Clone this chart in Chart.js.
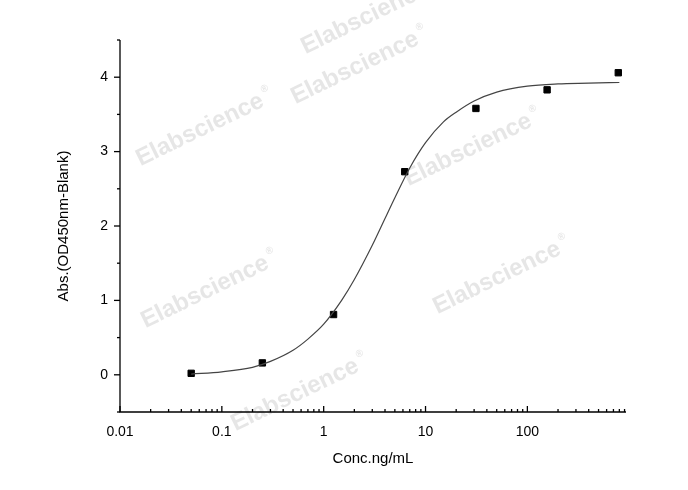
<!DOCTYPE html>
<html><head><meta charset="utf-8">
<script src="https://cdn.jsdelivr.net/npm/chart.js@4"></script>
<style>body{margin:0;background:#fff}canvas{display:block}</style>
</head><body>
<canvas id="c" width="688" height="490" style="width:688px;height:490px"></canvas>
<script>
const concX = [0.05, 0.25, 1.25, 6.25, 31.25, 156.25, 781.25];
const absY = [0.02, 0.16, 0.81, 2.73, 3.58, 3.83, 4.06];
const curveX = [0.05, 0.1, 0.2, 0.3, 0.5, 0.7, 1, 1.5, 2, 3, 4, 5, 7, 10, 15, 20, 30, 50, 100, 200, 400, 800];
const curveY = [0.01, 0.04, 0.1, 0.18, 0.33, 0.48, 0.68, 1.0, 1.28, 1.74, 2.1, 2.38, 2.78, 3.12, 3.4, 3.53, 3.68, 3.8, 3.88, 3.91, 3.92, 3.93];
const xTickLabels = ['0.01', '0.1', '1', '10', '100'];
const yTickLabels = ['0', '1', '2', '3', '4'];
const wm = [[365,18],[355,68],[200,130],[468,150],[205,292],[497,278],[295,395]];

const deco = {
  id: 'deco',
  beforeDatasetsDraw(ch) {
    const c = ch.ctx;
    c.save();
    c.fillStyle = 'rgba(200,200,200,0.45)';
    c.textAlign = 'center'; c.textBaseline = 'middle';
    wm.forEach(([x,y]) => { c.save(); c.translate(x,y); c.rotate(-0.45);
      c.font = 'bold 24px "Liberation Sans", Arial'; c.fillText('Elabscience', 0, 0);
      c.font = 'bold 10px "Liberation Sans"'; c.fillText('®', 76, -9); c.restore(); });
    c.restore();
  },
  afterDraw(ch) {
    const c = ch.ctx, xs = ch.scales.x, ys = ch.scales.y, a = ch.chartArea;
    c.save();
    c.strokeStyle = '#000'; c.lineWidth = 1.3; c.fillStyle = '#000';
    c.beginPath(); c.moveTo(a.left, a.top); c.lineTo(a.left, a.bottom); c.lineTo(a.right, a.bottom); c.stroke();
    c.font = '14px "Liberation Sans", Arial';
    c.textAlign = 'center'; c.textBaseline = 'top';
    for (let d = -2; d <= 2; d++) {
      for (let m = 1; m <= 9; m++) {
        const v = m * Math.pow(10, d);
        if (v > xs.max) break;
        const px = xs.getPixelForValue(v);
        c.beginPath(); c.moveTo(px, a.bottom); c.lineTo(px, a.bottom - (m === 1 ? 6 : 3)); c.stroke();
      }
      c.fillText(xTickLabels[d + 2], xs.getPixelForValue(Math.pow(10, d)), a.bottom + 13);
    }
    c.textAlign = 'right'; c.textBaseline = 'middle';
    for (let v = -0.5; v <= 4.5; v += 0.5) {
      const py = ys.getPixelForValue(v);
      const major = Math.abs(v - Math.round(v)) < 1e-6;
      c.beginPath(); c.moveTo(a.left, py); c.lineTo(a.left - (major ? 6 : 3), py); c.stroke();
      if (major && v >= 0) c.fillText(yTickLabels[v], a.left - 12, py);
    }
    c.textAlign = 'center'; c.textBaseline = 'middle';
    c.font = '15px "Liberation Sans", Arial';
    c.fillText('Conc.ng/mL', (a.left + a.right) / 2, 459);
    c.save(); c.translate(64, (a.top + a.bottom) / 2); c.rotate(-Math.PI / 2);
    c.fillText('Abs.(OD450nm-Blank)', 0, 0); c.restore();
    c.restore();
  }
};

new Chart(document.getElementById('c'), {
  type: 'scatter',
  data: { datasets: [
    { data: curveX.map((x,i)=>({x, y: curveY[i]})), showLine: true, borderColor: '#444', borderWidth: 1.2, pointRadius: 0, tension: 0.4, cubicInterpolationMode: 'monotone' },
    { data: concX.map((x,i)=>({x, y: absY[i]})), pointStyle: 'rect', pointRadius: 4.5, backgroundColor: '#000', borderColor: '#000', showLine: false }
  ]},
  options: {
    responsive: false, animation: false,
    layout: { padding: { left: 120, right: 62, top: 40, bottom: 78 } },
    plugins: { legend: { display: false }, tooltip: { enabled: false } },
    scales: {
      x: { type: 'logarithmic', min: 0.01, max: 930, display: false },
      y: { type: 'linear', min: -0.5, max: 4.5, display: false }
    }
  },
  plugins: [deco]
});
</script>
</body></html>
